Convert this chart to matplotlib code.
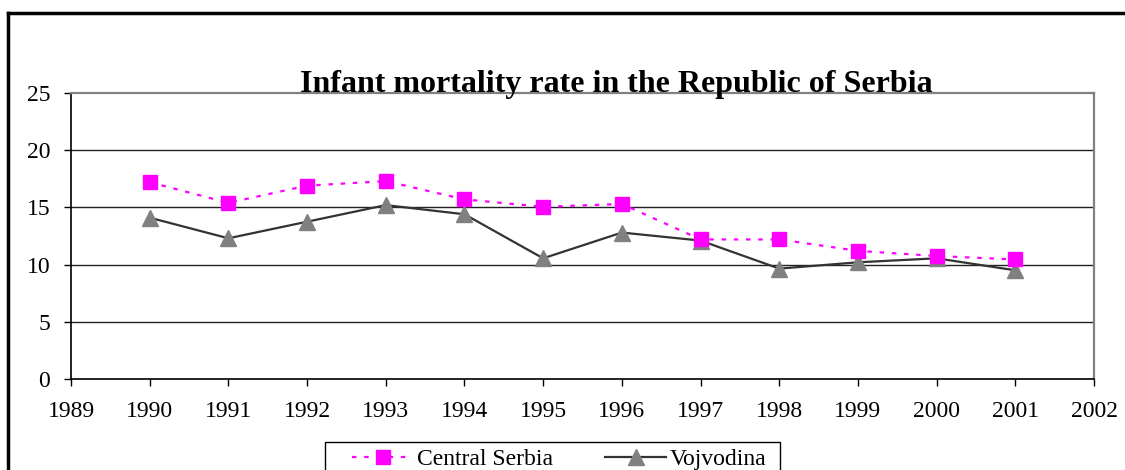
import matplotlib
matplotlib.use("Agg")
import matplotlib.pyplot as plt
from matplotlib.lines import Line2D
from matplotlib.patches import Rectangle

plt.rcParams.update({
    "font.family": ["Liberation Serif", "DejaVu Serif"],
    "font.size": 17,
})

# ── Data ──────────────────────────────────────────────────────────────────────
years = [1990, 1991, 1992, 1993, 1994, 1995, 1996, 1997, 1998, 1999, 2000, 2001]
central_serbia = [17.2, 15.4, 16.9, 17.3, 15.7, 15.05, 15.3, 12.2, 12.2, 11.2, 10.75, 10.45]
vojvodina = [14.1, 12.3, 13.75, 15.2, 14.4, 10.55, 12.8, 12.1, 9.65, 10.2, 10.55, 9.5]
x_ticks = list(range(1989, 2003))
y_ticks = [0, 5, 10, 15, 20, 25]

W, H = 1125, 470
fig = plt.figure(figsize=(W / 100, H / 100), dpi=100)
ax = fig.add_axes([71 / W, 1 - 379 / H, (1094 - 71) / W, (379 - 93) / H])

# gridlines
for yv in y_ticks[1:-1]:
    ax.axhline(yv, color="#222222", lw=1.0, zorder=1)

ax.plot(years, vojvodina, color="#333333", lw=1.6, marker="^", markersize=11,
        markerfacecolor="#808080", markeredgecolor="#808080", zorder=3,
        label="Vojvodina")
ax.plot(years, central_serbia, color="#ff00ff", lw=1.6, ls=(0, (2, 3.5)),
        marker="s", markersize=10, markerfacecolor="#ff00ff",
        markeredgecolor="#ff00ff", zorder=4, label="Central Serbia")

ax.set_xlim(1989, 2002)
ax.set_ylim(0, 25)
ax.set_xticks(x_ticks)
ax.set_yticks(y_ticks)
ax.tick_params(direction="out", length=5, width=1, color="black", labelsize=17)
ax.tick_params(axis="x", pad=11)
ax.tick_params(axis="y", pad=10)

for side in ("top", "right"):
    ax.spines[side].set_color("#808080")
    ax.spines[side].set_linewidth(1.6)
for side in ("left", "bottom"):
    ax.spines[side].set_color("black")
    ax.spines[side].set_linewidth(1.2)

fig.text(616 / W, 1 - 92 / H, "Infant mortality rate in the Republic of Serbia",
         ha="center", va="baseline", fontsize=23, fontweight="bold")

# legend (box runs off the figure's bottom edge, as in the source)
handles = [
    Line2D([], [], color="#ff00ff", lw=1.6, ls=(0, (2, 3.5)), marker="s",
           markersize=10, markerfacecolor="#ff00ff", markeredgecolor="#ff00ff"),
    Line2D([], [], color="#333333", lw=1.6, marker="^", markersize=11,
           markerfacecolor="#808080", markeredgecolor="#808080"),
]
fig.add_artist(Rectangle((325 / W, -0.1), (780 - 325) / W, (1 - 442 / H) + 0.1,
                         transform=fig.transFigure, fill=False,
                         edgecolor="black", lw=1.0))
fig.legend(handles, ["Central Serbia", "Vojvodina"], ncol=2,
           loc="center left", bbox_to_anchor=(352 / W, 1 - 459 / H),
           frameon=False, handlelength=2.6, handletextpad=0.15,
           columnspacing=2.2, borderpad=0.0, borderaxespad=0.0, fontsize=17)

# outer frame lines (only top and left are visible in the crop)
fig.add_artist(Line2D([8 / W, 8 / W], [0, 1 - 13 / H], transform=fig.transFigure,
                      color="black", lw=2.5))
fig.add_artist(Line2D([8 / W, 1], [1 - 13 / H, 1 - 13 / H], transform=fig.transFigure,
                      color="black", lw=2.5))

fig.savefig("out.png", dpi=100)
